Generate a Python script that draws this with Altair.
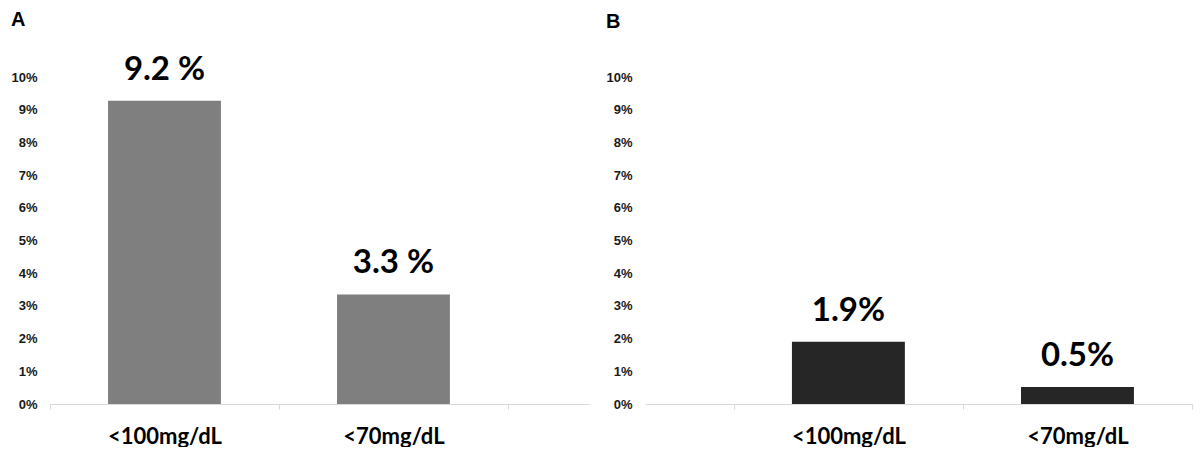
import altair as alt
import pandas as pd

categories = ["<100mg/dL", "<70mg/dL"]
values_a = [9.27, 3.35]
labels_a = ["9.2 %", "3.3 %"]
values_b = [1.9, 0.52]
labels_b = ["1.9%", "0.5%"]
y_ticks = list(range(0, 11))

df_a = pd.DataFrame({"cat": categories, "val": values_a, "lab": labels_a})
df_b = pd.DataFrame({"cat": categories, "val": values_b, "lab": labels_b})

VALUE_FONT = "Lato"
AXIS_FONT = "Liberation Sans"


def panel(df, title, color, width, pad_outer, align, title_offset):
    x = alt.X(
        "cat:N",
        sort=categories,
        title=None,
        scale=alt.Scale(paddingInner=0, paddingOuter=pad_outer, align=align),
        axis=alt.Axis(
            labelAngle=0,
            tickBand="extent",
            domainColor="#d9d9d9",
            tickColor="#d9d9d9",
            tickSize=5,
            labelFont=VALUE_FONT,
            labelFontSize=22,
            labelFontWeight="bold",
            labelColor="#000000",
            labelPadding=17,
        ),
    )
    y = alt.Y(
        "val:Q",
        title=None,
        scale=alt.Scale(domain=[0, 10], nice=False),
        axis=alt.Axis(
            values=y_ticks,
            labelExpr="datum.value + '%'",
            grid=False,
            domain=False,
            ticks=False,
            labelFont=AXIS_FONT,
            labelFontSize=13,
            labelFontWeight="bold",
            labelColor="#1a1a1a",
            labelPadding=13,
        ),
    )
    bars = alt.Chart(df).mark_bar(
        color=color, width=alt.RelativeBandSize(0.493)
    ).encode(x=x, y=y)
    text = alt.Chart(df).mark_text(
        baseline="bottom",
        dy=-14,
        font=VALUE_FONT,
        fontSize=33,
        fontWeight="bold",
        color="#000000",
    ).encode(x=x, y=y, text="lab:N")
    return alt.layer(bars, text).properties(
        width=width,
        height=327,
        title=alt.TitleParams(
            text=title,
            anchor="start",
            frame="bounds",
            font=AXIS_FONT,
            fontSize=20,
            fontWeight="bold",
            color="#000000",
            offset=title_offset,
        ),
    )


pa = panel(df_a, "A", "#7f7f7f", 539, 0.177, 0, 24)
pb = panel(df_b, "B", "#262626", 547, 0.194, 1, 39)

chart = alt.hconcat(pa, pb, spacing=16).configure_view(stroke=None).properties(
    padding={"left": 10, "top": 9, "right": 0, "bottom": 0}
)

chart.save("out.html", embed_options={"renderer": "svg", "actions": False})
